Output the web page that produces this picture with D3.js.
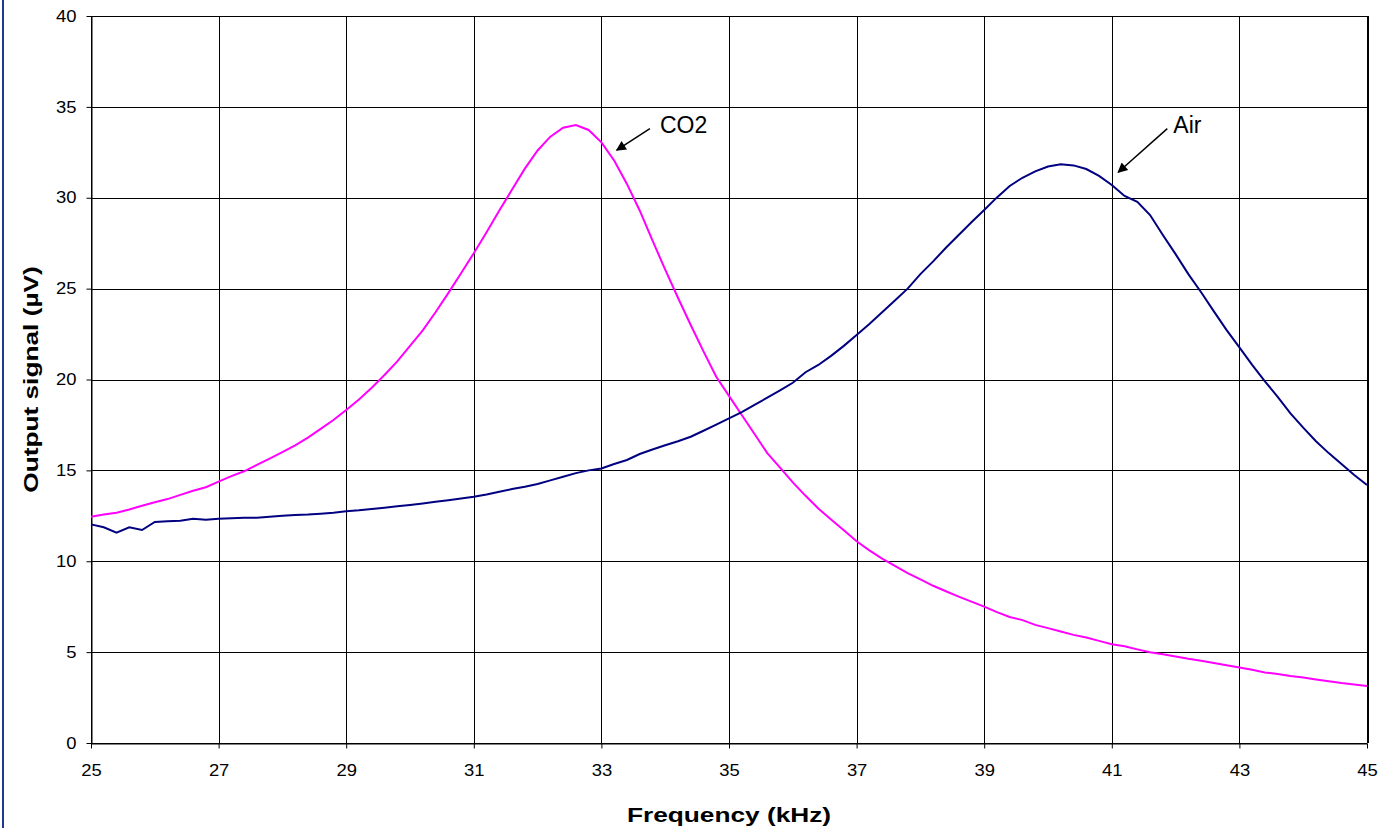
<!DOCTYPE html>
<html>
<head>
<meta charset="utf-8">
<script src="https://d3js.org/d3.v7.min.js"></script>
<style>
  body { margin: 0; background: #fff; }
  .chart text { font-family: Arial, "Liberation Sans", sans-serif; fill: #000; }
  .grid line { stroke: #000; shape-rendering: crispEdges; }
</style>
</head>
<body>
<div class="chart"></div>
<script>

var freq = [25.0,25.2,25.4,25.6,25.8,26.0,26.2,26.4,26.6,26.8,
            27.0,27.2,27.4,27.6,27.8,28.0,28.2,28.4,28.6,28.8,
            29.0,29.2,29.4,29.6,29.8,30.0,30.2,30.4,30.6,30.8,
            31.0,31.2,31.4,31.6,31.8,32.0,32.2,32.4,32.6,32.8,
            33.0,33.2,33.4,33.6,33.8,34.0,34.2,34.4,34.6,34.8,
            35.0,35.2,35.4,35.6,35.8,36.0,36.2,36.4,36.6,36.8,
            37.0,37.2,37.4,37.6,37.8,38.0,38.2,38.4,38.6,38.8,
            39.0,39.2,39.4,39.6,39.8,40.0,40.2,40.4,40.6,40.8,
            41.0,41.2,41.4,41.6,41.8,42.0,42.2,42.4,42.6,42.8,
            43.0,43.2,43.4,43.6,43.8,44.0,44.2,44.4,44.6,44.8,
            45.0];

var co2 = [12.45,12.57,12.67,12.85,13.05,13.25,13.42,13.65,13.88,14.07,
           14.38,14.68,14.95,15.30,15.65,16.00,16.38,16.80,17.28,17.77,
           18.32,18.90,19.55,20.25,21.00,21.85,22.70,23.70,24.75,25.85,
           26.95,28.10,29.30,30.45,31.60,32.60,33.36,33.85,34.00,33.73,
           33.05,32.05,30.76,29.30,27.65,26.05,24.50,23.00,21.55,20.15,
           19.10,18.05,17.00,15.95,15.15,14.34,13.60,12.90,12.30,11.70,
           11.10,10.60,10.15,9.75,9.35,9.00,8.65,8.35,8.05,7.78,
           7.50,7.20,6.93,6.76,6.50,6.32,6.13,5.95,5.80,5.62,
           5.43,5.32,5.15,4.99,4.88,4.76,4.63,4.52,4.40,4.28,
           4.16,4.03,3.88,3.80,3.69,3.61,3.50,3.40,3.30,3.22,
           3.14];

var air = [12.03,11.87,11.57,11.87,11.72,12.16,12.20,12.23,12.34,12.29,
           12.34,12.37,12.40,12.40,12.45,12.50,12.54,12.57,12.62,12.67,
           12.75,12.80,12.88,12.95,13.02,13.10,13.18,13.27,13.36,13.45,
           13.55,13.67,13.82,13.97,14.10,14.25,14.45,14.65,14.85,15.00,
           15.10,15.35,15.57,15.90,16.15,16.38,16.60,16.85,17.18,17.52,
           17.86,18.20,18.60,19.00,19.40,19.82,20.40,20.80,21.30,21.85,
           22.45,23.05,23.70,24.35,25.00,25.80,26.50,27.25,27.95,28.65,
           29.33,30.02,30.65,31.10,31.45,31.72,31.84,31.78,31.58,31.20,
           30.70,30.10,29.78,29.05,27.95,26.90,25.80,24.80,23.75,22.72,
           21.77,20.80,19.90,19.05,18.14,17.35,16.60,15.95,15.35,14.75,
           14.20];

var xTicks = [25,27,29,31,33,35,37,39,41,43,45];
var yTicks = [0,5,10,15,20,25,30,35,40];

// annotation: label, arrow tail (f, v), arrow head (f, v)
var labels = [
  {name: "CO2", tail: [33.76, 33.8], head: [33.24, 32.62], dx: 10},
  {name: "Air", tail: [41.87, 33.8], head: [41.1, 31.4], dx: 6}
];

var margin = {top: 16, right: 15, bottom: 85, left: 91},
    width = 1382 - margin.left - margin.right,
    height = 828 - margin.top - margin.bottom;

var root = d3.select(".chart").append("svg")
    .attr("width", 1382)
    .attr("height", 828);

var defs = root.append("defs");
defs.append("marker")
    .attr("id", "arrow")
    .attr("viewBox", "0 0 10 10")
    .attr("refX", 9).attr("refY", 5)
    .attr("markerWidth", 12).attr("markerHeight", 10)
    .attr("markerUnits", "userSpaceOnUse")
    .attr("orient", "auto")
  .append("path")
    .attr("d", "M0,0 L10,5 L0,10 z")
    .attr("fill", "#000");

// left border of the chart window
root.append("rect")
    .attr("x", 2).attr("y", 0)
    .attr("width", 2).attr("height", 828)
    .attr("fill", "#1c3a8c");

var svg = root.append("g")
    .attr("transform", "translate(" + margin.left + "," + margin.top + ")");

var x = d3.scaleLinear().domain([25, 45]).range([0, width]);
var y = d3.scaleLinear().domain([0, 40]).range([height, 0]);

// stretch text horizontally, like the original
function stretch(sel, k) {
  sel.each(function() {
    var w = this.getComputedTextLength();
    d3.select(this).attr("textLength", w * k).attr("lengthAdjust", "spacingAndGlyphs");
  });
}

// grid
svg.append("g").attr("class", "grid")
  .selectAll("line.h").data(yTicks).enter().append("line")
    .attr("x1", 0).attr("x2", width)
    .attr("y1", function(d){ return Math.round(y(d)) + 0.5; })
    .attr("y2", function(d){ return Math.round(y(d)) + 0.5; })
    .attr("stroke", function(d){ return d == 40 ? "#999" : "#000"; });

svg.append("g").attr("class", "grid")
  .selectAll("line.v").data(xTicks).enter().append("line")
    .attr("y1", 0).attr("y2", height)
    .attr("x1", function(d){ return Math.round(x(d)) + 0.5; })
    .attr("x2", function(d){ return Math.round(x(d)) + 0.5; })
    .attr("stroke", function(d){ return d == 45 ? "#808080" : "#000"; })
    .attr("stroke-width", function(d){ return d == 45 ? 2 : 1; });

var xAxis = d3.axisBottom(x).tickValues(xTicks).tickSize(5).tickSizeOuter(0);
var yAxis = d3.axisLeft(y).tickValues(yTicks).tickSize(5).tickSizeOuter(0);

var gx = svg.append("g")
    .attr("transform", "translate(0," + (Math.round(height) + 0.5) + ")")
    .call(xAxis);
gx.select(".domain").attr("stroke", "#000");
gx.selectAll(".tick line").attr("stroke", "#000");
gx.selectAll(".tick text")
    .attr("y", 21)
    .attr("dy", "0.71em")
    .style("font-size", "16px")
    .call(stretch, 1.15);

var gy = svg.append("g")
    .attr("transform", "translate(0.5,0)")
    .call(yAxis);
gy.select(".domain").attr("stroke", "#000");
gy.selectAll(".tick line").attr("stroke", "#000");
gy.selectAll(".tick text")
    .attr("x", -15)
    .style("font-size", "16px")
    .call(stretch, 1.15);
gy.selectAll(".tick text").attr("text-anchor", "end");

// series
var line = d3.line()
    .x(function(d){ return x(d[0]); })
    .y(function(d){ return y(d[1]); });

svg.append("path")
    .datum(freq.map(function(f, i){ return [f, co2[i]]; }))
    .attr("fill", "none")
    .attr("stroke", "#ff00ff")
    .attr("stroke-width", 2)
    .attr("d", line);

svg.append("path")
    .datum(freq.map(function(f, i){ return [f, air[i]]; }))
    .attr("fill", "none")
    .attr("stroke", "#000080")
    .attr("stroke-width", 2)
    .attr("d", line);

// annotations
labels.forEach(function(l) {
  svg.append("line")
      .attr("x1", x(l.tail[0])).attr("y1", y(l.tail[1]))
      .attr("x2", x(l.head[0])).attr("y2", y(l.head[1]))
      .attr("stroke", "#000")
      .attr("stroke-width", 1.5)
      .attr("marker-end", "url(#arrow)");
  svg.append("text")
      .attr("x", x(l.tail[0]) + l.dx)
      .attr("y", y(l.tail[1]) + 4)
      .style("font-size", "23px")
      .text(l.name);
});

// axis titles
root.append("text")
    .attr("x", margin.left + width / 2)
    .attr("y", 822)
    .attr("text-anchor", "middle")
    .style("font-size", "21px")
    .style("font-weight", "bold")
    .text("Frequency (kHz)")
    .call(stretch, 1.25);

root.append("text")
    .attr("transform", "translate(38," + (margin.top + height / 2) + ") rotate(-90)")
    .attr("text-anchor", "middle")
    .style("font-size", "21px")
    .style("font-weight", "bold")
    .text("Output signal (µV)")
    .call(stretch, 1.25);

</script>
</body>
</html>
